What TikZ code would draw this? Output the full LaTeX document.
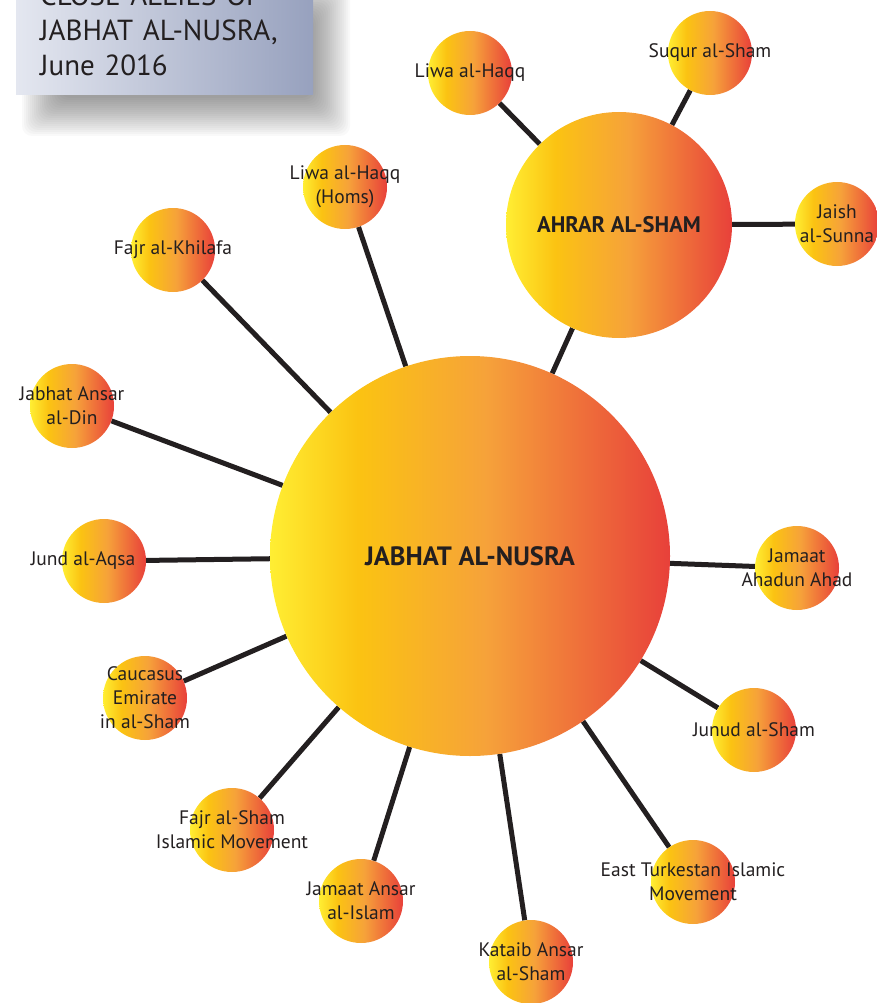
\documentclass[tikz,border=0pt]{standalone}
\usepackage{fontspec}
\setmainfont{PT Sans}
\usetikzlibrary{backgrounds}
\definecolor{inkline}{HTML}{231F20}
\definecolor{sunyellow}{HTML}{FFEE33}
\definecolor{sungold}{HTML}{FBC312}
\definecolor{sunorange}{HTML}{F6A23A}
\definecolor{sunred}{HTML}{E8403A}
\definecolor{slatelight}{HTML}{E4E7F0}
\definecolor{slatedark}{HTML}{97A1BE}
\pgfdeclarehorizontalshading{sunset}{100bp}{color(0bp)=(sunyellow); color(25bp)=(sunyellow);
  color(36bp)=(sungold); color(52bp)=(sunorange); color(75bp)=(sunred); color(100bp)=(sunred)}
\tikzset{
  hub/.style={circle, shade, shading=sunset, inner sep=0pt, text=inkline},
  blabel/.style={font=\fontsize{19.5}{24}\selectfont, align=center, text=inkline, inner sep=0pt},
  ball/.style={circle, shade, shading=sunset, minimum size=84pt, inner sep=0pt},
  bubble/.style={ball, label={[blabel]center:#1}},
  link/.style={line width=5pt, draw=inkline},
  titlebox/.style={rectangle, left color=slatelight, right color=slatedark,
                   text width=249pt, inner xsep=24pt, inner ysep=19pt, align=left,
                   text=inkline, font=\fontsize{29}{35}\selectfont},
}

\begin{document}
\begin{tikzpicture}[x=1pt, y=-1pt]
  \useasboundingbox (0,0) rectangle (877,1003);

  % soft shadow under the title
  \foreach \i in {0,...,19}
    \fill[black, opacity=0.022, rounded corners=10pt]
      (22+2*\i, -20+2*\i) rectangle (350-2*\i, 136-2*\i);
  \node[titlebox, anchor=south west] (title) at (16,95)
    {CLOSE ALLIES OF\\JABHAT AL-NUSRA,\\June 2016};

  \node[hub, minimum size=400pt, font=\bfseries\fontsize{26.5}{30}\selectfont]
    (nusra) at (470,556) {JABHAT AL-NUSRA};
  \node[hub, minimum size=226pt, font=\bfseries\fontsize{22.5}{26}\selectfont]
    (ahrar) at (619,225) {AHRAR AL-SHAM};

  \node[bubble={Liwa al-Haqq}] (lhq) at (470,73) {};
  \node[bubble={Suqur al-Sham}] (suq) at (710,53) {};
  \node[bubble={Jaish\\al-Sunna}] (jsu) at (837,224) {};
  \node[bubble={Liwa al-Haqq\\(Homs)}] (lhh) at (345,187) {};
  \node[bubble={Fajr al-Khilafa}] (fkh) at (173,250) {};
  \node[bubble={Jabhat Ansar\\al-Din}] (jad) at (72,406) {};
  \node[ball, label={[blabel, xshift=-21pt]center:Jund al-Aqsa}] (jaq) at (104,561) {};
  \node[bubble={Caucasus\\Emirate\\in al-Sham}] (cau) at (145,698) {};
  \node[bubble={Fajr al-Sham\\Islamic Movement}] (fsh) at (232,830) {};
  \node[bubble={Jamaat Ansar\\al-Islam}] (jai) at (361,901) {};
  \node[bubble={Kataib Ansar\\al-Sham}] (kas) at (531,962) {};
  \node[bubble={East Turkestan Islamic\\Movement}] (eti) at (693,882) {};
  \node[bubble={Junud al-Sham}] (jsh) at (754,730) {};
  \node[bubble={Jamaat\\Ahadun Ahad}] (jaa) at (797,568) {};

  \begin{scope}[on background layer]
    \foreach \n in {lhh,fkh,jad,jaq,cau,fsh,jai,kas,eti,jsh,jaa,ahrar}
      \draw[link] (nusra) -- (\n);
    \foreach \n in {lhq,suq,jsu}
      \draw[link] (ahrar) -- (\n);
  \end{scope}
\end{tikzpicture}
\end{document}
